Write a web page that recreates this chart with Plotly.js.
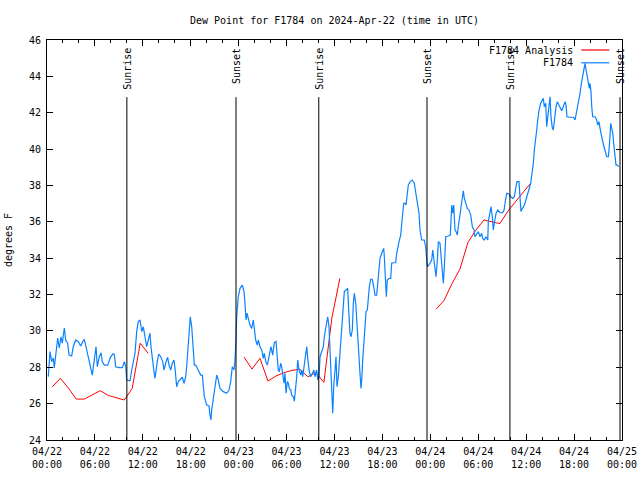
<!DOCTYPE html>
<html>
<head>
<meta charset="utf-8">
<script src="https://cdn.plot.ly/plotly-3.0.1.min.js"></script>
<style>html,body{margin:0;padding:0;background:#fff}#chart{width:640px;height:480px}</style>
</head>
<body>
<div id="chart"></div>
<script>
// ---- data ----
const chartTitle = 'Dew Point for F1784 on 2024-Apr-22 (time in UTC)';
const yTitle = 'degrees F';
const startUTC = Date.UTC(2024, 3, 22);
const seriesNames = ['F1784 Analysis', 'F1784'];
const seriesColors = ['#ff0000', '#0a82ff'];

// hours since 2024-04-22 00:00 UTC
const stationHours = [
0.16,0.38,0.59,0.79,0.91,1.13,1.34,1.54,1.75,1.92,
2.17,2.34,2.59,2.76,3.09,3.29,3.59,3.92,4.22,4.47,
4.67,4.88,5.17,5.47,5.67,5.89,6.14,6.30,6.55,6.76,
6.92,7.18,7.60,7.89,8.23,8.43,8.60,9.02,9.43,9.68,
9.86,9.98,10.39,10.61,10.81,11.02,11.23,11.43,11.65,11.86,
12.06,12.27,12.48,12.68,12.90,13.02,13.24,13.40,13.52,13.65,
13.81,13.99,14.24,14.49,14.65,14.86,15.11,15.28,15.49,15.69,
15.90,16.03,16.15,16.24,16.44,16.65,16.94,17.16,17.37,17.49,
17.69,17.82,17.94,18.12,18.32,18.45,18.62,18.82,19.03,19.25,
19.45,19.57,19.70,20.00,20.29,20.41,20.54,20.62,20.82,21.04,
21.25,21.45,21.66,22.08,22.50,22.79,23.00,23.20,23.42,23.54,
23.67,23.75,23.95,24.17,24.46,24.67,24.79,24.92,25.04,25.21,
25.42,25.63,25.83,25.96,26.13,26.33,26.46,26.67,26.89,27.09,
27.21,27.39,27.59,27.80,28.05,28.26,28.46,28.68,28.84,28.96,
29.09,29.26,29.39,29.52,29.68,29.80,29.93,30.09,30.22,30.34,
30.52,30.64,30.84,30.97,31.14,31.27,31.39,31.56,31.77,31.89,
32.02,32.18,32.39,32.52,32.65,32.81,33.02,33.22,33.43,33.56,
33.77,33.90,34.06,34.19,34.40,34.60,34.72,
34.90,35.02,35.15,35.31,35.44,35.56,35.65,35.78,35.90,36.06,
36.19,36.31,36.48,36.60,36.78,36.98,37.10,37.23,37.44,37.65,
37.82,37.94,38.07,38.23,38.36,38.48,38.66,38.78,38.91,39.07,
39.19,39.32,39.41,39.53,39.70,39.82,39.95,40.11,40.23,40.36,
40.53,40.73,40.95,41.07,41.28,41.41,41.57,41.70,41.91,42.04,
42.16,42.24,42.36,42.49,42.61,42.83,43.04,43.16,43.37,43.66,
43.79,43.91,44.08,44.29,44.42,44.54,44.67,44.83,44.95,45.08,
45.24,45.46,45.74,45.99,46.21,46.42,46.58,46.71,46.92,47.24,
47.42,47.55,47.67,47.96,48.17,48.30,48.46,48.59,48.71,48.88,
49.00,49.21,49.34,49.50,49.63,49.75,49.93,50.25,50.50,50.68,
50.80,50.93,51.09,51.22,51.38,51.50,51.72,51.93,52.13,52.26,
52.43,52.63,52.84,53.06,53.26,53.47,53.59,53.81,54.01,54.22,
54.43,54.56,54.76,54.97,55.19,55.26,55.47,55.60,55.76,55.89,
56.01,56.23,56.44,56.73,57.06,57.23,57.35,57.57,57.85,58.06,
58.32,58.52,58.69,58.85,59.10,59.23,59.35,59.52,59.69,59.85,
60.07,60.36,60.57,60.73,60.90,61.02,61.20,61.32,61.45,61.61,
61.82,61.99,62.15,62.27,62.45,62.57,62.70,62.82,62.99,63.11,
63.28,63.40,63.58,63.74,63.90,64.08,64.24,64.45,64.65,64.87,
64.99,65.11,65.49,65.91,66.12,66.24,66.41,66.58,66.75,66.91,
67.08,67.25,67.37,67.50,67.66,67.78,67.91,67.99,68.12,68.21,
68.33,68.62,68.83,68.96,69.12,69.25,69.37,69.54,69.75,69.96,
70.09,70.29,70.41,70.59,70.71,70.84,71.00,71.13,71.25,71.42,71.59
];
const stationValues = [
27.48,28.86,28.31,28.51,27.96,28.95,29.61,29.06,29.68,29.33,
30.16,29.50,29.33,28.67,28.62,29.13,29.50,29.41,29.17,29.41,
29.54,29.13,28.51,28.03,27.57,28.31,29.13,28.03,28.58,28.80,
28.31,28.12,28.12,28.49,28.73,28.71,28.03,27.98,27.98,28.31,
28.03,27.30,27.26,27.85,28.22,28.77,29.96,30.51,30.60,29.96,
30.23,29.68,29.13,29.50,29.87,29.13,28.49,27.76,27.39,27.94,
28.31,28.73,28.58,28.31,27.85,28.22,28.55,28.12,27.85,28.22,
28.40,27.94,27.30,26.93,27.21,27.34,27.45,27.12,27.48,28.03,
29.13,30.23,30.78,30.23,29.13,28.12,28.12,27.94,27.76,27.57,
27.57,27.02,26.38,25.92,25.87,25.37,25.10,25.65,26.38,26.93,
27.57,27.30,26.84,26.66,26.57,26.75,27.21,28.03,27.85,28.40,
29.50,30.78,31.88,32.34,32.52,32.16,31.52,30.60,30.97,30.69,
30.32,30.14,30.60,30.14,29.50,29.22,29.50,29.13,28.95,28.49,
28.77,28.31,28.12,28.58,29.13,28.67,29.35,29.41,28.49,27.85,
27.76,28.22,28.03,27.48,27.12,27.67,26.57,27.21,27.12,26.84,
26.75,26.47,26.38,26.14,26.75,27.48,28.40,27.85,27.57,27.85,
27.48,28.03,28.95,29.13,28.49,27.85,27.48,27.67,27.85,27.48,
27.85,27.30,27.48,28.58,28.86,29.13,29.68,
30.14,30.42,30.78,30.23,28.77,27.48,26.20,25.47,26.93,28.22,
28.58,26.93,27.48,28.22,29.50,30.78,31.88,32.16,32.25,32.34,
30.78,29.87,29.68,30.05,31.52,32.07,31.52,30.60,29.13,28.40,
27.67,26.84,27.30,28.40,29.41,30.51,31.06,31.15,31.88,32.43,
32.84,32.84,32.34,31.97,31.97,32.62,33.72,33.99,34.27,34.45,
34.54,34.08,32.98,31.88,32.80,32.89,32.89,33.72,33.75,33.75,
34.27,34.63,34.91,35.27,35.73,36.47,37.02,37.02,36.92,37.57,
38.02,38.21,38.30,38.12,37.57,37.02,36.47,35.55,35.00,35.00,
34.63,33.90,33.53,33.72,33.90,34.45,33.90,33.35,32.98,33.90,
34.91,34.82,34.08,33.35,32.62,33.53,35.18,35.22,35.27,36.92,
36.47,36.92,35.55,35.46,35.27,35.73,36.47,37.02,37.71,37.29,
37.02,36.74,36.65,36.37,35.73,35.55,35.18,35.37,35.46,35.18,
35.37,35.09,35.00,35.18,35.00,36.01,36.47,36.83,36.28,35.55,
35.92,36.47,36.65,36.50,36.50,36.65,37.02,37.57,37.53,37.38,
37.29,37.38,37.84,38.21,38.21,37.38,36.56,36.74,36.83,37.02,
37.38,37.75,38.12,38.67,39.22,39.95,40.50,41.05,41.60,42.15,
42.52,42.70,42.79,42.33,42.52,41.23,41.78,42.42,42.88,41.78,
41.14,41.05,41.78,42.33,42.61,42.42,42.24,42.11,42.33,42.61,
42.42,41.78,41.75,41.75,41.60,41.88,42.24,42.52,43.07,43.62,
44.07,44.44,44.72,44.35,43.89,43.52,43.34,43.62,43.16,42.33,
41.78,41.78,41.60,41.32,41.51,41.14,40.77,40.50,40.13,39.86,
39.58,39.58,40.13,41.42,41.23,40.87,40.13,39.40,39.12,39.12,39.03
];

// analysis: three runs separated by gaps (null)
const analysisHours = [
0.67,1.67,2.67,3.67,4.67,5.67,6.67,7.67,8.67,9.67,10.67,11.67,12.67,
null,
24.67,25.67,26.67,27.67,28.67,29.67,30.67,31.67,32.67,33.67,34.67,35.67,36.67,
null,
48.71,49.71,50.71,51.71,52.71,53.71,54.71,55.71,56.71,57.71,58.71,59.71,60.55
];
const analysisValues = [
26.93,27.39,26.86,26.25,26.25,26.48,26.71,26.45,26.33,26.20,26.84,29.32,28.77,
null,
28.56,27.90,28.49,27.24,27.52,27.70,27.83,27.89,27.48,27.70,27.17,30.71,32.89,
null,
31.19,31.67,32.60,33.40,34.87,35.55,36.10,36.02,35.90,36.59,37.12,37.66,38.12
];

const eventLabels = ['Sunrise','Sunset','Sunrise','Sunset','Sunrise','Sunset'];
const eventTimes = ['2024-04-22 10:00','2024-04-22 23:40','2024-04-23 10:02',
                    '2024-04-23 23:35','2024-04-24 09:58','2024-04-24 23:45'];

// ---- build ----
function hoursToDate(h) {
  if (h === null) return null;
  const d = new Date(startUTC + Math.round(h * 3600000));
  return d.toISOString().replace('T', ' ').slice(0, 19);
}

const font = {family: '"DejaVu Sans Mono", "Liberation Mono", monospace', size: 10, color: '#000'};

const traces = [
  {x: analysisHours.map(hoursToDate), y: analysisValues, name: seriesNames[0],
   type: 'scatter', mode: 'lines', connectgaps: false,
   line: {color: seriesColors[0], width: 1}, hoverinfo: 'skip'},
  {x: stationHours.map(hoursToDate), y: stationValues, name: seriesNames[1],
   type: 'scatter', mode: 'lines',
   line: {color: seriesColors[1], width: 1.2}, hoverinfo: 'skip'}
];

const shapes = eventTimes.map(t => ({
  type: 'line', xref: 'x', yref: 'paper', x0: t, x1: t, y0: 0, y1: 0.857,
  line: {color: '#000', width: 1}
}));
const annotations = eventTimes.map((t, i) => ({
  text: eventLabels[i], x: t, xref: 'x', y: 0.985, yref: 'paper',
  xanchor: 'center', yanchor: 'top', textangle: -90, showarrow: false, font: font
}));

// legend (text left of sample line)
const legendY = [0.975, 0.943];
seriesNames.forEach((n, i) => {
  annotations.push({text: n, x: 0.918, xref: 'paper', y: legendY[i], yref: 'paper',
    xanchor: 'right', yanchor: 'middle', showarrow: false, font: font});
  shapes.push({type: 'line', xref: 'paper', yref: 'paper', x0: 0.929, x1: 0.978,
    y0: legendY[i], y1: legendY[i], line: {color: seriesColors[i], width: 1.2}});
});

const layout = {
  width: 640, height: 480,
  margin: {l: 47, r: 18, t: 40, b: 40},
  paper_bgcolor: '#fff', plot_bgcolor: '#fff',
  font: font,
  showlegend: false,
  title: {text: chartTitle, font: font, x: 0.5, xref: 'paper', xanchor: 'center',
          y: 1 - 20 / 480, yref: 'container', yanchor: 'middle'},
  xaxis: {
    type: 'date', range: ['2024-04-22 00:00', '2024-04-25 00:00'],
    tick0: '2024-04-22 00:00', dtick: 6 * 3600000, tickformat: '%m/%d<br>%H:%M',
    ticks: 'inside', ticklen: 6, tickcolor: '#000', tickfont: font,
    ticklabelstandoff: 2,
    showline: true, linecolor: '#000', linewidth: 1, mirror: 'ticks',
    showgrid: false, zeroline: false,
    minor: {dtick: 2 * 3600000, ticks: 'inside', ticklen: 3, tickcolor: '#000', showgrid: false}
  },
  yaxis: {
    range: [24, 46], tick0: 24, dtick: 2,
    ticks: 'inside', ticklen: 6, tickcolor: '#000', tickfont: font,
    ticklabelstandoff: 3,
    showline: true, linecolor: '#000', linewidth: 1, mirror: 'ticks',
    showgrid: false, zeroline: false,
    title: {text: yTitle, font: font, standoff: 14}
  },
  shapes: shapes,
  annotations: annotations
};

Plotly.newPlot('chart', traces, layout, {displayModeBar: false, staticPlot: true});
</script>
</body>
</html>
